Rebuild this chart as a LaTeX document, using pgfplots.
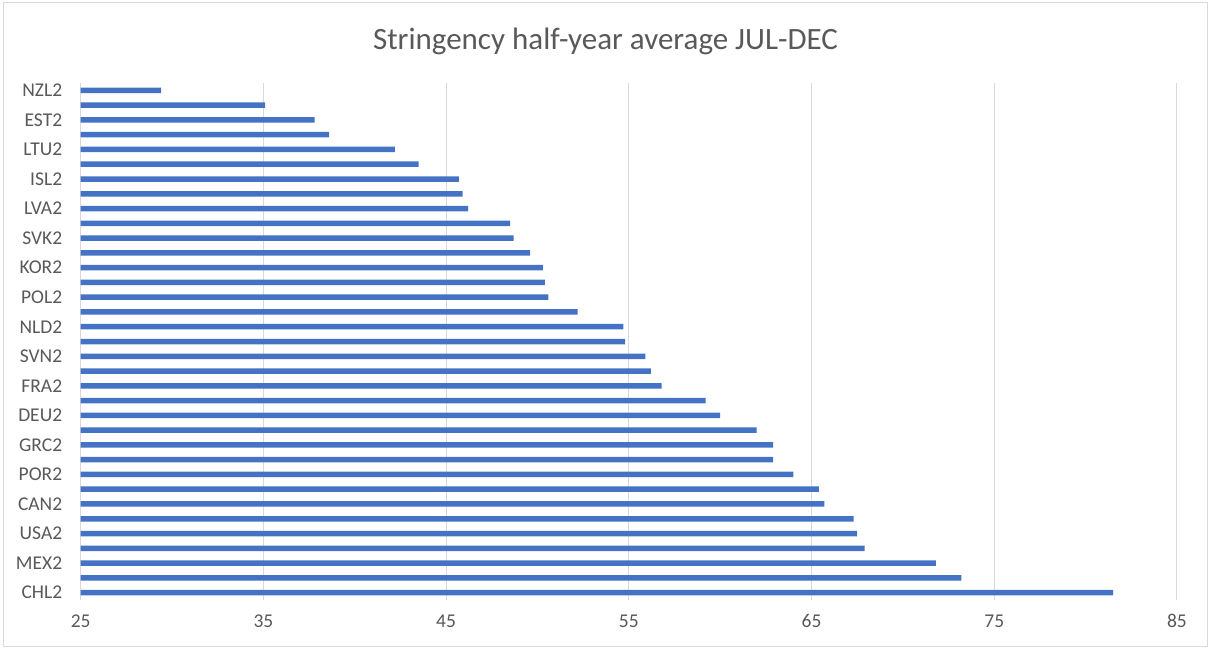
\documentclass[border=0pt]{standalone}
\usepackage{pgfplots}
\pgfplotsset{compat=1.18}
\usepackage{pgfplotstable}
\usepackage{fontspec}
\setmainfont{Carlito}

\definecolor{barblue}{HTML}{4472C4}
\definecolor{gridgray}{HTML}{D9D9D9}
\definecolor{labelgray}{HTML}{595959}

% Half-year stringency average, July-December; idx 0 is the top bar
\pgfplotstableread{
idx value
0 29.4
1 35.1
2 37.8
3 38.6
4 42.2
5 43.5
6 45.7
7 45.9
8 46.2
9 48.5
10 48.7
11 49.6
12 50.3
13 50.4
14 50.6
15 52.2
16 54.7
17 54.8
18 55.9
19 56.2
20 56.8
21 59.2
22 60.0
23 62.0
24 62.9
25 62.9
26 64.0
27 65.4
28 65.7
29 67.3
30 67.5
31 67.9
32 71.8
33 73.2
34 81.5
}\stringency

\begin{document}
\begin{tikzpicture}[x=1pt,y=1pt]
  % chart area and its frame
  \fill[white] (0,0) rectangle (1210,650);
  \draw[gridgray, line width=1pt] (3,3) rectangle (1207,647);
  \node[anchor=base, font=\fontsize{31}{37}\selectfont, text=labelgray]
    at (605.5,600) {Stringency half-year average JUL-DEC};
  \begin{axis}[
    at={(80.7pt,50pt)}, anchor=south west,
    scale only axis, width=1096.3pt, height=517pt,
    xbar, bar width=5.5pt, bar shift=0pt,
    xmin=25, xmax=85, xtick={25,35,...,85},
    ymin=-0.5, ymax=34.5, y dir=reverse,
    ytick={0,2,...,34},
    yticklabels={NZL2,EST2,LTU2,ISL2,LVA2,SVK2,KOR2,POL2,NLD2,SVN2,FRA2,DEU2,GRC2,POR2,CAN2,USA2,MEX2,CHL2},
    xmajorgrids, major grid style={gridgray, line width=1pt},
    axis line style={draw=none},
    major tick length=0pt,
    tick label style={font=\fontsize{19.5}{23}\selectfont, text=labelgray},
    xticklabel style={yshift=-11pt},
    yticklabel style={xshift=-15pt},
    /pgf/number format/assume math mode=true,
  ]
    \addplot[fill=barblue, draw=none] table[x=value, y=idx] {\stringency};
  \end{axis}
\end{tikzpicture}
\end{document}
